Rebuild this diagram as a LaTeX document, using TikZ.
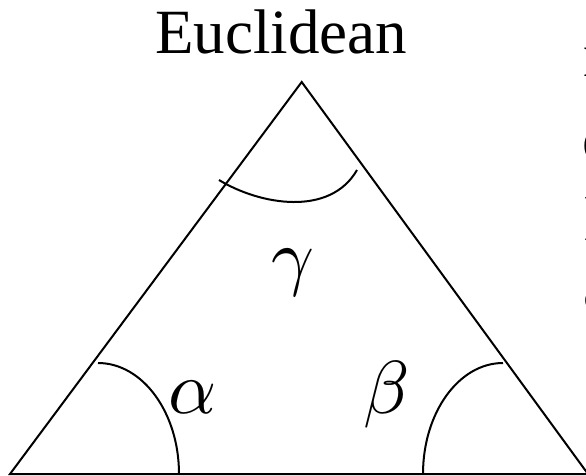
\RequirePackage{fix-cm}
\documentclass[tikz,border=0pt]{standalone}
\usepackage{fontspec}
\setmainfont{Liberation Serif}
\newcommand{\biggreek}[1]{\scalebox{7.5}{$#1$}}
\tikzset{
  side/.style={line width=2pt},
  anglearc/.style={line width=2pt},
  greek/.style={inner sep=0pt,anchor=base},
  title/.style={font=\fontsize{63}{70}\selectfont,inner sep=0pt,anchor=base},
  cuttext/.style={font=\fontsize{62}{70}\selectfont,inner sep=0pt,anchor=base west}
}
\begin{document}
\begin{tikzpicture}[x=1pt,y=-1pt]
 \clip (0,0) rectangle (586,475);
 \coordinate (A) at (301.7,82);
 \coordinate (B) at (10,474);
 \coordinate (C) at (588,474);
 \draw[side] (B)--(A)--(C)--cycle;
 % angle marks
 \draw[anglearc] (98,363) .. controls (142.7,363) and (179,412.7) .. (179,474);
 \draw[anglearc] (503,363) .. controls (458.8,363) and (423,412.7) .. (423,474);
 \draw[anglearc] (219,180) .. controls (260,205) and (330,217) .. (357,170);
 \node[title] (euclid) at (281,53) {Euclidean};
 \node[greek] (alpha) at (193,413) {\biggreek{\alpha}};
 \node[greek] (beta) at (387,413) {\biggreek{\beta}};
 \node[greek] (gamma) at (293,281) {\biggreek{\gamma}};
 % text running off the right edge
 \node[cuttext] (line1) at (583,76) {n};
 \node[cuttext] (line2) at (582,160) {o};
 \node[cuttext] (line3) at (584,240) {l};
 \node[cuttext] (line4) at (583,308) {a};
\end{tikzpicture}
\end{document}
